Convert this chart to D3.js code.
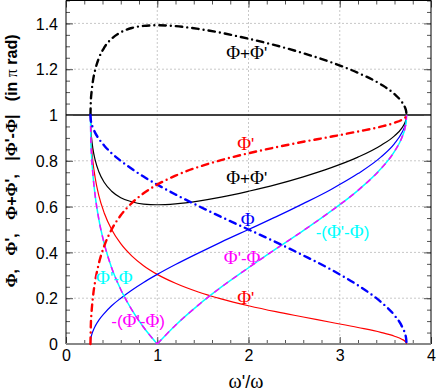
<!DOCTYPE html>
<html lang="en">
<head>
<meta charset="UTF-8">
<title>Phases vs frequency ratio</title>
<script src="https://cdn.jsdelivr.net/npm/d3@7/dist/d3.min.js"></script>
<style>
  body { margin: 0; background: #fff; }
  svg { display: block; }
</style>
</head>
<body>
<div id="chart"></div>
<script>
// frequency ratio w'/w sampled along the curves
const ratio = [0.268, 0.272, 0.28, 0.295, 0.32, 0.36, 0.42, 0.5, 0.6, 0.72, 0.85, 1.0, 1.2,
               1.45, 1.7, 2.0, 2.3, 2.6, 2.9, 3.2, 3.45, 3.6, 3.68, 3.715, 3.728, 3.732];

// phase values (in units of pi)
const phi      = [0, 0.022, 0.038, 0.056, 0.078, 0.104, 0.134, 0.167, 0.200, 0.235, 0.269, 0.304, 0.347,
                  0.397, 0.445, 0.500, 0.555, 0.613, 0.674, 0.744, 0.816, 0.875, 0.922, 0.955, 0.978, 1];
const phiP     = [1, 0.919, 0.862, 0.796, 0.725, 0.648, 0.571, 0.500, 0.438, 0.385, 0.342, 0.304, 0.265,
                  0.227, 0.197, 0.167, 0.141, 0.118, 0.095, 0.072, 0.051, 0.034, 0.021, 0.012, 0.006, 0];
const phiSum   = [1, 0.941, 0.900, 0.852, 0.803, 0.752, 0.705, 0.667, 0.639, 0.621, 0.611, 0.608, 0.612,
                  0.624, 0.641, 0.667, 0.696, 0.730, 0.769, 0.816, 0.867, 0.909, 0.943, 0.967, 0.984, 1];
const phiDiff  = [1, 0.897, 0.824, 0.740, 0.647, 0.544, 0.437, 0.333, 0.238, 0.150, 0.073, 0, 0.082,
                  0.170, 0.248, 0.333, 0.415, 0.495, 0.579, 0.671, 0.765, 0.841, 0.901, 0.943, 0.972, 1];
// dash-dot companions
const phiAlt    = [1, 0.978, 0.962, 0.944, 0.922, 0.896, 0.866, 0.833, 0.800, 0.765, 0.731, 0.696, 0.653,
                   0.603, 0.555, 0.500, 0.445, 0.387, 0.326, 0.256, 0.184, 0.125, 0.078, 0.045, 0.022, 0];
const phiPAlt   = [0, 0.081, 0.138, 0.204, 0.275, 0.352, 0.429, 0.500, 0.562, 0.615, 0.658, 0.696, 0.735,
                   0.773, 0.803, 0.833, 0.859, 0.883, 0.905, 0.928, 0.949, 0.966, 0.979, 0.988, 0.994, 1];
const phiSumAlt = [1, 1.059, 1.100, 1.148, 1.197, 1.248, 1.295, 1.333, 1.361, 1.380, 1.389, 1.392, 1.388,
                   1.376, 1.359, 1.333, 1.304, 1.270, 1.231, 1.184, 1.134, 1.091, 1.057, 1.033, 1.016, 1];

const xTicks = [0, 1, 2, 3, 4];
const yTicks = [0, 0.2, 0.4, 0.6, 0.8, 1, 1.2, 1.4];
const yTickLabels = ['0', '0.2', '0.4', '0.6', '0.8', '1', '1.2', '1.4'];

// curve labels: text, position (data units), colour
const labelText = ["Φ+Φ'", "Φ'", "Φ+Φ'", "Φ", "-(Φ'-Φ)", "Φ'-Φ", "Φ'-Φ", "Φ'", "-(Φ'-Φ)"];
const labelX    = [1.98, 1.97, 1.98, 1.99, 3.03, 1.93, 0.53, 1.97, 0.79];
const labelY    = [1.27, 0.875, 0.725, 0.54, 0.49, 0.375, 0.29, 0.2, 0.1];
const labelColor = ['#000', '#f00', '#000', '#00f', '#0ff', '#f0f', '#0ff', '#f00', '#f0f'];

const W = 436, H = 391;
const x = d3.scaleLinear().domain([0, 4]).range([66, 431]);
const y = d3.scaleLinear().domain([0, 1.5]).range([344, 0.5]);

const svg = d3.select('#chart').append('svg')
    .attr('width', W)
    .attr('height', H);

// dotted grid
const grid = svg.append('g').attr('stroke', '#c8c8c8').attr('stroke-width', 1).attr('stroke-dasharray', '2,2');
xTicks.filter(d => d > 0 && d < 4).forEach(d => {
    grid.append('line').attr('x1', x(d)).attr('x2', x(d)).attr('y1', y(0)).attr('y2', y(1.5));
});
yTicks.filter(d => d > 0 && d !== 1).forEach(d => {
    grid.append('line').attr('x1', x(0)).attr('x2', x(4)).attr('y1', y(d)).attr('y2', y(d));
});

// reference line at 1
svg.append('line')
    .attr('x1', x(0)).attr('x2', x(4))
    .attr('y1', y(1)).attr('y2', y(1))
    .attr('stroke', '#000').attr('stroke-width', 1.4);

// ticks (all inward), majors labelled on left/bottom
const minorX = d3.range(0, 4.001, 0.2);
const minorY = d3.range(0, 1.5001, 0.05);

function tickAxis(axis, tr) {
    const g = svg.append('g').attr('transform', tr).call(axis);
    g.select('.domain').remove();
    g.selectAll('line').attr('stroke', '#555');
    return g;
}
tickAxis(d3.axisBottom(x).tickValues(minorX).tickSize(-4).tickFormat(''), `translate(0,${y(0)})`);
tickAxis(d3.axisTop(x).tickValues(minorX).tickSize(-4).tickFormat(''), `translate(0,${y(1.5)})`);
tickAxis(d3.axisLeft(y).tickValues(minorY).tickSize(-4).tickFormat(''), `translate(${x(0)},0)`);
tickAxis(d3.axisRight(y).tickValues(minorY).tickSize(-4).tickFormat(''), `translate(${x(4)},0)`);
tickAxis(d3.axisRight(y).tickValues(yTicks).tickSize(-7).tickFormat(''), `translate(${x(4)},0)`);
tickAxis(d3.axisTop(x).tickValues(xTicks).tickSize(-7).tickFormat(''), `translate(0,${y(1.5)})`);

const bottomAx = tickAxis(d3.axisBottom(x).tickValues(xTicks).tickSize(-7).tickPadding(6)
    .tickFormat(d3.format('d')), `translate(0,${y(0)})`);
const leftAx = tickAxis(d3.axisLeft(y).tickValues(yTicks).tickSize(-7).tickPadding(8)
    .tickFormat((d, i) => yTickLabels[i]), `translate(${x(0)},0)`);
[bottomAx, leftAx].forEach(g => {
    g.attr('font-family', '"Liberation Sans", Arial, sans-serif').attr('font-size', 16);
    g.selectAll('text').attr('fill', '#000');
});
leftAx.selectAll('text').attr('dy', '0.36em');

// frame
svg.append('path')
    .attr('d', `M${x(0)},${y(0)}V${y(1.5)}H${x(4)}V${y(0)}`)
    .attr('fill', 'none').attr('stroke', '#000').attr('stroke-width', 1);
svg.append('line')
    .attr('x1', x(0)).attr('x2', x(4)).attr('y1', y(0)).attr('y2', y(0))
    .attr('stroke', '#888').attr('stroke-width', 2);

// curves
const pts = vals => ratio.map((r, i) => [r, vals[i]]);
const line = d3.line().x(d => x(d[0])).y(d => y(d[1])).curve(d3.curveMonotoneX);
const plot = svg.append('g').attr('fill', 'none');

function draw(data, color, width, dash, cap) {
    plot.append('path')
        .attr('d', line(data))
        .attr('stroke', color)
        .attr('stroke-width', width)
        .attr('stroke-dasharray', dash)
        .attr('stroke-linecap', cap || 'butt')
        .attr('stroke-linejoin', 'round');
}

const diffPts = pts(phiDiff);
const diffLeft = diffPts.filter(d => d[0] <= 1);
const diffRight = diffPts.filter(d => d[0] >= 1);

draw(pts(phiSum), '#000', 1.2);
draw(pts(phiP), '#f00', 1.2);
draw(pts(phi), '#00f', 1.2);
draw(diffLeft, '#0ff', 1.5);
draw(diffRight, '#0ff', 1.5);
draw(diffLeft, '#f0f', 1.5, '6,5');
draw(diffRight, '#f0f', 1.5, '6,5');

const dashDot = '6.5,5,0,5';
draw(pts(phiSumAlt), '#000', 2.4, dashDot, 'round');
draw(pts(phiAlt), '#00f', 2.4, dashDot, 'round');
draw(pts(phiPAlt), '#f00', 2.4, dashDot, 'round');

// text with greek glyphs in a serif face
function rich(sel, str, greekFont, greekSize) {
    str.split(/([Φπω])/).filter(p => p !== '').forEach(p => {
        const t = sel.append('tspan').text(p);
        if (/[Φπω]/.test(p)) {
            t.attr('font-family', greekFont);
            if (greekSize) t.attr('font-size', greekSize);
        }
    });
}

labelText.forEach((s, i) => {
    const t = svg.append('text')
        .attr('x', x(labelX[i]))
        .attr('y', y(labelY[i]) + 6)
        .attr('text-anchor', 'middle')
        .attr('font-family', '"Liberation Sans", Arial, sans-serif')
        .attr('font-size', 17)
        .attr('fill', labelColor[i]);
    rich(t, s, '"Liberation Serif", serif', 19);
});

// axis titles
const xt = svg.append('text')
    .attr('x', 246).attr('y', 388)
    .attr('text-anchor', 'middle')
    .attr('font-family', '"Liberation Sans", Arial, sans-serif')
    .attr('font-size', 18);
rich(xt, "ω'/ω", '"Liberation Serif", serif', 20);

const yt = svg.append('text')
    .attr('transform', 'translate(17,161) rotate(-90)')
    .attr('text-anchor', 'middle')
    .attr('font-family', '"Liberation Sans", Arial, sans-serif')
    .attr('font-weight', 'bold')
    .attr('font-size', 16)
    .style('white-space', 'pre');
rich(yt, "Φ,   Φ',   Φ+Φ',   |Φ'-Φ|   (in ", '"Liberation Serif", serif', 17);
yt.append('tspan').attr('font-family', '"Liberation Serif", serif').attr('font-weight', 'normal').text('π');
yt.append('tspan').text(' rad)');
</script>
</body>
</html>
